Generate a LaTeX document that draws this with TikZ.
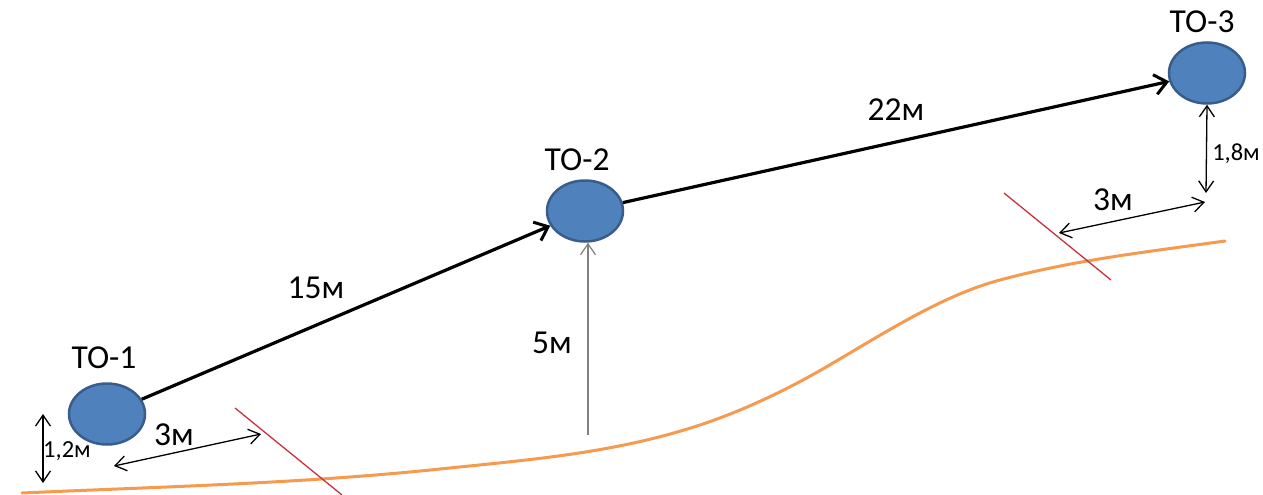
\documentclass[tikz,border=0pt]{standalone}
\usepackage{fontspec}
\setmainfont{Carlito}
\usetikzlibrary{shapes.geometric,arrows.meta}
\definecolor{nodefill}{HTML}{4F81BD}
\definecolor{nodeline}{HTML}{385D8A}
\definecolor{ground}{HTML}{F59A4E}
\definecolor{cutline}{HTML}{C8323C}
\begin{document}
\begin{tikzpicture}[x=1pt,y=-1pt,
  wellnode/.style={ellipse,fill=nodefill,draw=nodeline,line width=2.5pt,minimum width=76pt,minimum height=61pt,inner sep=0pt},
  biglabel/.style={inner sep=0pt,anchor=base,font=\fontsize{33.5}{38}\selectfont},
  smalllabel/.style={inner sep=0pt,anchor=base,font=\fontsize{24.5}{28}\selectfont},
  mainarrow/.style={line width=3.2pt,-{Straight Barb[length=12pt,width=20pt,line width=3pt]}},
  dimarrow/.style={line width=1.3pt,{Straight Barb[length=11pt,width=15pt]}-{Straight Barb[length=11pt,width=15pt]}},
  grayarrow/.style={line width=1.2pt,draw=gray,-{Straight Barb[length=11pt,width=15pt]}},
  cutstyle/.style={line width=1.3pt,draw=cutline},
  groundstyle/.style={line width=3pt,draw=ground,line cap=round}]
\useasboundingbox (0,0) rectangle (1263,495);
\fill[white] (0,0) rectangle (1263,495);

% ground line
\draw[groundstyle] (22,493) .. controls (161,486.7) and (301,483.6) .. (440,469)
  .. controls (527,459.9) and (613,453.7) .. (700,425)
  .. controls (744,410.4) and (789,389.1) .. (833,363)
  .. controls (889,330.1) and (944,295) .. (1000,280)
  .. controls (1075,259.75) and (1150,251.5) .. (1225,241);

% cut lines
\coordinate (c1a) at (235,408);
\coordinate (c1b) at (342,495);
\coordinate (c2a) at (1004,193);
\coordinate (c2b) at (1111,280);
\draw[cutstyle] (c1a) -- (c1b);
\draw[cutstyle] (c2a) -- (c2b);

% wells
\node[wellnode] (to1) at (107,414) {};
\node[wellnode] (to2) at (585,211) {};
\node[wellnode] (to3) at (1207,73) {};

\node[biglabel] (l1) at (104,368) {ТО-1};
\node[biglabel] (l2) at (577,170) {ТО-2};
\node[biglabel] (l3) at (1202,33) {ТО-3};

% main arrows
\draw[mainarrow] (to1) -- (to2);
\draw[mainarrow] (to2) -- (to3);
\node[biglabel] (d15) at (316,298) {15м};
\node[biglabel] (d22) at (896,120) {22м};

% height of TO-2
\coordinate (g1) at (588,435);
\draw[grayarrow] (g1) -- (g1 |- to2.south);
\node[biglabel] (d5) at (552,353) {5м};

% left dimensions
\coordinate (v1a) at (43,414);
\coordinate (v1b) at (43,483);
\draw[dimarrow] (v1a) -- (v1b);
\node[smalllabel] (d12) at (67,457) {1,2м};
\coordinate (h1a) at (114,466);
\coordinate (h1b) at (261,434);
\draw[dimarrow] (h1a) -- (h1b);
\node[biglabel] (d3a) at (174,445) {3м};

% right dimensions
\coordinate (v2b) at (1206,193);
\draw[dimarrow] (to3.south) -- (v2b);
\node[smalllabel] (d18) at (1236,160) {1,8м};
\coordinate (h2a) at (1059,233);
\coordinate (h2b) at (1205,202);
\draw[dimarrow] (h2a) -- (h2b);
\node[biglabel] (d3b) at (1113,210) {3м};
\end{tikzpicture}
\end{document}
